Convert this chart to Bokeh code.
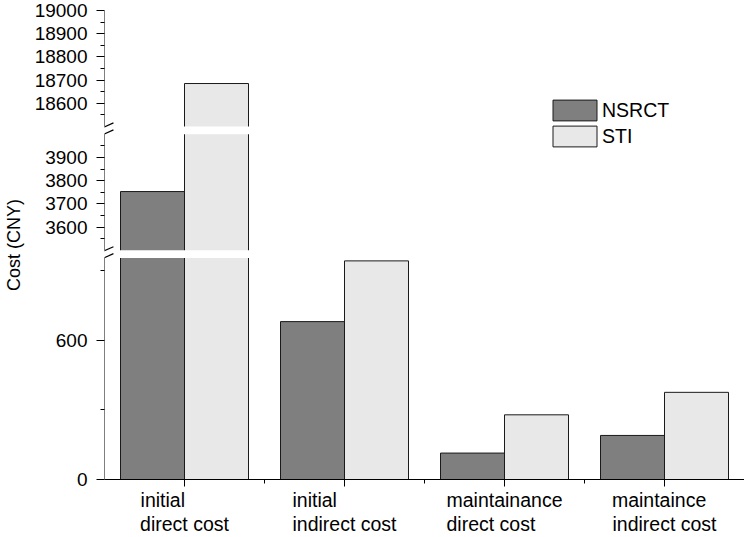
from bokeh.plotting import figure
from bokeh.models import (FixedTicker, Range1d, Legend, LegendItem, Arrow,
                          ColumnDataSource)
from bokeh.transform import dodge
from bokeh.embed import file_html
from bokeh.resources import INLINE

# ---------------- data ----------------
categories = ["initial\ndirect cost", "initial\nindirect cost",
              "maintainance\ndirect cost", "maintaince\nindirect cost"]
series_names = ["NSRCT", "STI"]
nsrct = [3753, 681, 114, 190]
sti = [18685, 943, 279, 376]

# broken y axis: shown segments (real units) and tick values
segments = [(0, 955), (3500, 4000), (18500, 19000)]
y_major = [0, 600, 3600, 3700, 3800, 3900, 18600, 18700, 18800, 18900, 19000]
y_minor = [300, 900, 3550, 3650, 3750, 3850, 3950,
           18550, 18650, 18750, 18850, 18950]
GAP = 34  # size of each break, in axis units

FONT = "Liberation Sans"
C_NSRCT = "#7f7f7f"
C_STI = "#e8e8e8"
C_EDGE = "#1a1a1a"
LBL_SIZE = 19.5
NBSP = "\u00a0"

# Arial / Liberation Sans advance widths (per 1000 em)
CHAR_W = {" ": 278, NBSP: 278, "a": 556, "c": 500, "d": 556, "e": 556,
          "i": 222, "l": 222, "m": 833, "n": 556, "o": 556, "r": 333,
          "s": 500, "t": 278}


def text_width(s):
    return sum(CHAR_W.get(ch, 556) for ch in s)


def left_aligned(label):
    """Pad shorter lines so centred lines look left-aligned."""
    lines = label.split("\n")
    wmax = max(text_width(l) for l in lines)
    out = []
    for l in lines:
        n = int(round((wmax - text_width(l)) / CHAR_W[NBSP]))
        out.append(l + NBSP * n)
    return "\n".join(out)


def disp(v):
    """Map a real value onto the broken (display) axis."""
    offset = 0
    for lo, hi in segments:
        if v <= hi:
            return max(v, lo) - lo + offset
        offset += (hi - lo) + GAP
    return offset - GAP


y_end = disp(segments[-1][1])
x_pos = list(range(len(categories)))

W, H = 744, 537
B_LEFT, B_RIGHT, B_TOP, B_BOTTOM = 100, 0, 10, 57
frame_w = W - B_LEFT - B_RIGHT
frame_h = H - B_TOP - B_BOTTOM

p = figure(width=W, height=H, output_backend="svg", toolbar_location=None,
           x_range=Range1d(-0.5, len(categories) - 0.5),
           y_range=Range1d(0, y_end),
           min_border_left=B_LEFT, min_border_right=B_RIGHT,
           min_border_top=B_TOP, min_border_bottom=B_BOTTOM)
p.outline_line_color = None
p.xgrid.visible = False
p.ygrid.visible = False
p.background_fill_color = "white"

src = ColumnDataSource(dict(
    x=x_pos,
    nsrct=[disp(v) for v in nsrct],
    sti=[disp(v) for v in sti],
))

r1 = p.vbar(x=dodge("x", -0.2, range=p.x_range), top="nsrct", bottom=0,
            width=0.4, source=src, fill_color=C_NSRCT, line_color=C_EDGE,
            line_width=1)
r2 = p.vbar(x=dodge("x", 0.2, range=p.x_range), top="sti", bottom=0,
            width=0.4, source=src, fill_color=C_STI, line_color=C_EDGE,
            line_width=1)

# white bands at the axis breaks
gaps = []
for (lo1, hi1), (lo2, hi2) in zip(segments[:-1], segments[1:]):
    g0 = disp(hi1)
    g1 = disp(lo2)
    gaps.append((g0, g1))
    p.quad(left=-0.5, right=len(categories) - 0.5, bottom=g0, top=g1,
           fill_color="white", line_color=None)

# ---------------- axes ----------------
xa = p.xaxis[0]
xa.ticker = FixedTicker(ticks=x_pos,
                        minor_ticks=[i + 0.5 for i in x_pos])
xa.major_label_overrides = {i: left_aligned(c)
                            for i, c in zip(x_pos, categories)}
xa.major_label_text_font = FONT
xa.major_label_text_font_size = f"{LBL_SIZE}px"
xa.major_label_text_color = "black"
xa.major_label_text_line_height = 1.1
xa.major_label_standoff = 2
xa.major_tick_out = 7
xa.major_tick_in = 0
xa.minor_tick_out = 4
xa.minor_tick_in = 0
xa.axis_line_color = "black"
xa.major_tick_line_color = "black"
xa.minor_tick_line_color = "black"

ya = p.yaxis[0]
ya.ticker = FixedTicker(ticks=[disp(v) for v in y_major],
                        minor_ticks=[disp(v) for v in y_minor])
ya.major_label_overrides = {disp(v): str(v) for v in y_major}
ya.major_label_text_font = FONT
ya.major_label_text_font_size = "19px"
ya.major_label_text_color = "black"
ya.major_label_standoff = 9
ya.major_tick_out = 8
ya.major_tick_in = 0
ya.minor_tick_out = 4
ya.minor_tick_in = 0
ya.axis_line_color = None
ya.major_tick_line_color = "black"
ya.minor_tick_line_color = "black"
ya.axis_label = "Cost (CNY)"
ya.axis_label_text_font = FONT
ya.axis_label_text_font_size = "18px"
ya.axis_label_text_font_style = "normal"
ya.axis_label_text_color = "black"
ya.axis_label_standoff = 8

# broken axis line segments
for lo, hi in segments:
    p.add_layout(Arrow(end=None, x_start=-0.5, y_start=disp(lo),
                       x_end=-0.5, y_end=disp(hi),
                       line_color="black", line_width=1))

# break marks "//"
ux = (len(categories)) / frame_w      # x units per pixel
uy = y_end / frame_h                  # y units per pixel
for g0, g1 in gaps:
    c = (g0 + g1) / 2
    for off in (-3.5, 3.5):
        p.add_layout(Arrow(end=None,
                           x_start=-0.5 - 9 * ux, y_start=c - (off + 4) * uy,
                           x_end=-0.5 + 9 * ux, y_end=c - (off - 4) * uy,
                           line_color="black", line_width=1.2))

# ---------------- legend ----------------
legend = Legend(items=[LegendItem(label=series_names[0], renderers=[r1]),
                       LegendItem(label=series_names[1], renderers=[r2])],
                location=(443, 330), orientation="vertical",
                glyph_width=55, glyph_height=26, label_height=26,
                spacing=-5, padding=0, margin=0, label_standoff=0,
                border_line_color=None, background_fill_alpha=0,
                label_text_font=FONT, label_text_font_size="19.5px",
                label_text_color="black")
p.add_layout(legend)

open("out.html", "w").write(file_html(p, INLINE))
